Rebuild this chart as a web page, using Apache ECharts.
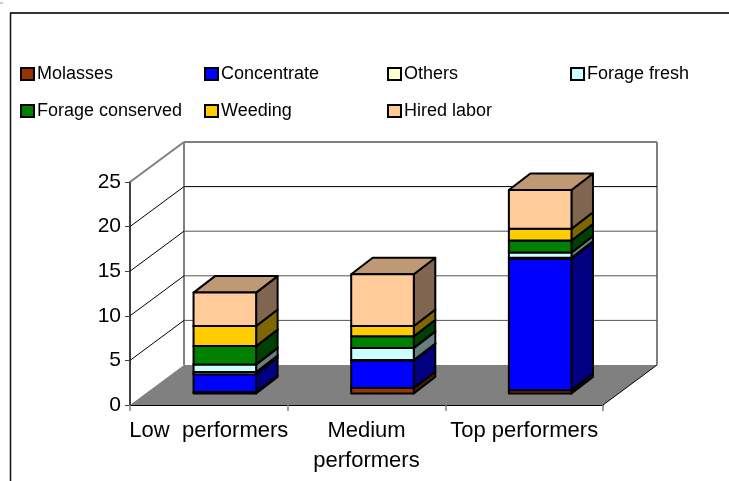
<!DOCTYPE html>
<html>
<head>
<meta charset="utf-8">
<style>html,body{margin:0;padding:0;background:#fff}#chart{width:729px;height:481px}</style>
<script src="https://cdn.jsdelivr.net/npm/echarts@6/dist/echarts.min.js"></script>
</head>
<body>
<div id="chart"></div>
<script>
const categories = ['Low  performers', 'Medium\nperformers', 'Top performers'];
const yTicks = [0, 5, 10, 15, 20, 25];

const molasses = [0.15, 0.6, 0.35];
const concentrate = [2.0, 3.1, 14.75];
const others = [0.25, 0.05, 0.1];
const forageFresh = [0.85, 1.35, 0.6];
const forageConserved = [2.05, 1.3, 1.35];
const weeding = [2.25, 1.15, 1.3];
const hiredLabor = [3.75, 5.8, 4.35];

// Stack order runs bottom to top; each colour has darker side and top shades.
const stacks = [
  { name: 'Molasses', values: molasses, front: '#993300', side: '#4d1a00', top: '#732600' },
  { name: 'Concentrate', values: concentrate, front: '#0000ff', side: '#000080', top: '#0000bf' },
  { name: 'Others', values: others, front: '#ffffcc', side: '#808066', top: '#bfbf99' },
  { name: 'Forage fresh', values: forageFresh, front: '#ccffff', side: '#668080', top: '#99bfbf' },
  { name: 'Forage conserved', values: forageConserved, front: '#008000', side: '#004000', top: '#006000' },
  { name: 'Weeding', values: weeding, front: '#ffcc00', side: '#806600', top: '#bf9900' },
  { name: 'Hired labor', values: hiredLabor, front: '#ffcc99', side: '#806650', top: '#bf9973' }
];

// Oblique projection of the plot box, in pixels.
const WALL_DX = 54, WALL_DY = -40;
const BAR_SHIFT_DX = 16, BAR_SHIFT_DY = -11.6;
const BAR_DX = 21.5, BAR_DY = -16.5;
const BAR_WIDTH_RATIO = 0.397;

function pts(list) { return { points: list }; }

function renderWalls(params, api) {
  const cs = params.coordSys;
  const value = api.value(0);
  const y = api.coord([0, value])[1];
  const x0 = cs.x, x1 = cs.x + cs.width;
  const bx0 = x0 + WALL_DX, bx1 = x1 + WALL_DX, by = y + WALL_DY;
  const children = [];
  if (value === 0) {
    children.push({
      type: 'polygon', shape: pts([[x0, y], [x1, y], [bx1, by], [bx0, by]]),
      style: { fill: '#808080', stroke: 'none' }
    });
    children.push({
      type: 'line', shape: { x1: x1, y1: y, x2: bx1, y2: by },
      style: { stroke: '#000', lineWidth: 1 }
    });
    children.push({
      type: 'line', shape: { x1: bx1, y1: by, x2: bx1, y2: api.coord([0, 25])[1] + WALL_DY },
      style: { stroke: '#808080', lineWidth: 2 }
    });
    children.push({
      type: 'line', shape: { x1: bx0, y1: by, x2: bx0, y2: api.coord([0, 25])[1] + WALL_DY },
      style: { stroke: '#808080', lineWidth: 2 }
    });
  } else {
    const isTop = value === 25;
    children.push({
      type: 'line', shape: { x1: x0, y1: y, x2: bx0, y2: by },
      style: { stroke: isTop ? '#808080' : '#000', lineWidth: isTop ? 2 : 1 }
    });
    children.push({
      type: 'line', shape: { x1: bx0, y1: by, x2: bx1, y2: by },
      style: { stroke: isTop ? '#808080' : (value === 20 ? '#000' : '#555'), lineWidth: isTop ? 2 : 1 }
    });
  }
  return { type: 'group', children: children };
}

function renderSegment(stack) {
  return function (params, api) {
    const cat = api.value(0);
    const band = api.size([1, 0])[0];
    const w = band * BAR_WIDTH_RATIO;
    const base = api.coord([cat, api.value(1)]);
    const topPt = api.coord([cat, api.value(2)]);
    const xl = base[0] - w / 2 + BAR_SHIFT_DX, xr = xl + w;
    const yb = base[1] + BAR_SHIFT_DY, yt = topPt[1] + BAR_SHIFT_DY;
    const edge = { stroke: '#000', lineWidth: 2, lineJoin: 'round' };
    return {
      type: 'group',
      children: [
        { type: 'polygon', shape: pts([[xr, yb], [xr + BAR_DX, yb + BAR_DY], [xr + BAR_DX, yt + BAR_DY], [xr, yt]]),
          style: Object.assign({ fill: stack.side }, edge) },
        { type: 'polygon', shape: pts([[xl, yt], [xr, yt], [xr + BAR_DX, yt + BAR_DY], [xl + BAR_DX, yt + BAR_DY]]),
          style: Object.assign({ fill: stack.top }, edge) },
        { type: 'rect', shape: { x: xl, y: yt, width: w, height: yb - yt },
          style: Object.assign({ fill: stack.front }, edge) }
      ]
    };
  };
}

const running = categories.map(() => 0);
const barSeries = stacks.map(function (stack) {
  const data = stack.values.map(function (v, i) {
    const row = [i, running[i], running[i] + v];
    running[i] += v;
    return row;
  });
  return {
    type: 'custom', name: stack.name, coordinateSystem: 'cartesian2d', clip: false, z: 3,
    itemStyle: { color: stack.front, borderColor: '#000', borderWidth: 1.5 },
    encode: { x: 0, y: [1, 2] },
    renderItem: renderSegment(stack),
    data: data
  };
});

const legendFont = { fontFamily: 'Liberation Sans', fontSize: 18, color: '#000' };
function legendColumn(left, names) {
  return {
    left: left, top: 65, padding: 0, orient: 'vertical', itemWidth: 13, itemHeight: 12, itemGap: 19,
    icon: 'rect', selectedMode: false, textStyle: Object.assign({ padding: [0, 0, 0, -2] }, legendFont),
    data: names
  };
}

const chart = echarts.init(document.getElementById('chart'), null, { renderer: 'canvas' });
chart.setOption({
  animation: false,
  backgroundColor: '#fff',
  grid: { left: 130, right: 126, top: 182, bottom: 76 },
  legend: [
    legendColumn(20, ['Molasses', 'Forage conserved']),
    legendColumn(204, ['Concentrate', 'Weeding']),
    legendColumn(387, ['Others', 'Hired labor']),
    legendColumn(570, ['Forage fresh'])
  ],
  xAxis: {
    type: 'category', data: categories,
    axisLine: { lineStyle: { color: '#000', width: 1 } },
    axisTick: { show: true, length: 6, lineStyle: { color: '#808080', width: 1.5 } },
    axisLabel: { fontFamily: 'Liberation Sans', fontSize: 22, color: '#000', lineHeight: 30, margin: 11, interval: 0 }
  },
  yAxis: {
    type: 'value', min: 0, max: 25, interval: 5,
    splitLine: { show: false },
    axisLine: { show: true, lineStyle: { color: '#404040', width: 2 } },
    axisTick: { show: true, length: 5, lineStyle: { color: '#404040' } },
    axisLabel: { fontFamily: 'Liberation Sans', fontSize: 21, color: '#000', margin: 9 }
  },
  graphic: [
    { type: 'line', shape: { x1: 0, y1: 3, x2: 3, y2: 3 }, style: { stroke: '#999', lineWidth: 1 } },
    { type: 'line', shape: { x1: 10, y1: 13, x2: 729, y2: 13 }, style: { stroke: '#333', lineWidth: 2 } },
    { type: 'line', shape: { x1: 10.5, y1: 13, x2: 10.5, y2: 481 }, style: { stroke: '#111', lineWidth: 1.5 } }
  ],
  series: [{
    type: 'custom', coordinateSystem: 'cartesian2d', clip: false, z: 1,
    silent: true, encode: { y: 0 }, renderItem: renderWalls,
    data: yTicks.map(function (t) { return [t]; })
  }].concat(barSeries)
});
</script>
</body>
</html>
